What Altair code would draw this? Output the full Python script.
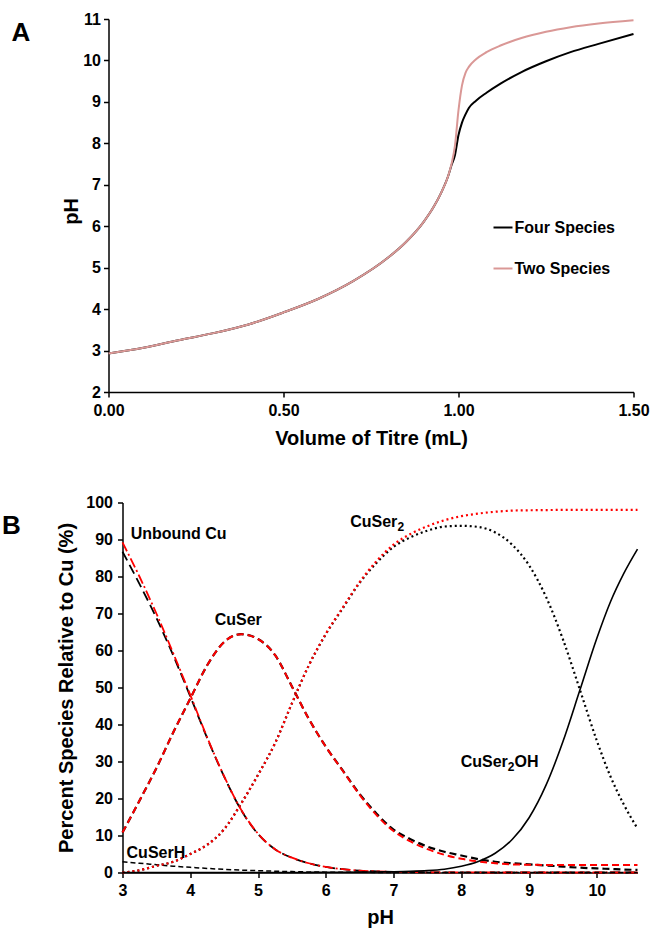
import altair as alt
import pandas as pd

FONT = "Liberation Sans"

# ---------------- Panel A: titration curves ----------------
vol = [0.0, 0.1, 0.2, 0.3, 0.4, 0.5, 0.6, 0.7, 0.8, 0.85, 0.9, 0.93, 0.95, 0.97,
       0.98, 0.99, 1.0, 1.01, 1.02, 1.03, 1.05, 1.08, 1.12, 1.18, 1.25, 1.32, 1.4, 1.5]
ph_two = [2.93, 3.07, 3.25, 3.42, 3.63, 3.92, 4.25, 4.68, 5.25, 5.62, 6.1, 6.48, 6.8, 7.2,
          7.5, 7.95, 8.8, 9.4, 9.7, 9.85, 10.03, 10.2, 10.36, 10.54, 10.69, 10.8, 10.89, 10.97]
ph_four = [2.93, 3.07, 3.25, 3.42, 3.63, 3.92, 4.25, 4.68, 5.25, 5.62, 6.1, 6.48, 6.8, 7.2,
           7.47, 7.72, 8.2, 8.5, 8.7, 8.86, 9.03, 9.22, 9.44, 9.72, 9.98, 10.2, 10.4, 10.64]
models = ["Four Species", "Two Species"]
model_colors = ["#000000", "#DA9896"]
vol_ticks = [0, 0.5, 1.0, 1.5]
ph_ticks = list(range(2, 12))

# ---------------- Panel B: speciation (% of Cu) ----------------
ph = [3.0, 3.25, 3.5, 3.75, 4.0, 4.25, 4.5, 4.75, 5.0, 5.25, 5.5, 5.75, 6.0, 6.25, 6.5, 6.75,
      7.0, 7.25, 7.5, 7.75, 8.0, 8.25, 8.5, 8.75, 9.0, 9.25, 9.5, 9.75, 10.0, 10.2, 10.4, 10.6]
# two-species model (red)
cu_two = [89.2, 80.0, 70.0, 59.2, 48.0, 36.5, 26.0, 17.0, 10.5, 6.3, 4.0, 2.5, 1.5, 0.9, 0.5, 0.3,
          0.15, 0.1, 0.05, 0.03, 0.02, 0.01, 0, 0, 0, 0, 0, 0, 0, 0, 0, 0]
cuser_two = [10.8, 19.4, 28.2, 37.9, 47.0, 56.0, 62.3, 64.4, 63.1, 58.8, 50.3, 41.5, 34.0, 27.5, 21.0, 15.5,
             11.2, 8.4, 6.3, 4.8, 3.7, 3.0, 2.5, 2.2, 2.1, 2.05, 2.0, 2.0, 2.0, 2.0, 2.0, 2.0]
cuser2_two = [0.0, 0.6, 1.8, 2.9, 5.0, 7.5, 11.7, 18.6, 26.4, 34.9, 45.7, 56.0, 64.5, 71.6, 78.5, 84.2,
              88.6, 91.5, 93.6, 95.2, 96.3, 97.0, 97.5, 97.8, 97.9, 97.95, 98.0, 98.0, 98.0, 98.0, 98.0, 98.0]
# four-species model (black)
cu_four = [86.7, 78.0, 68.8, 58.6, 47.6, 36.3, 25.9, 16.9, 10.4, 6.3, 4.0, 2.5, 1.5, 0.9, 0.5, 0.3,
           0.15, 0.1, 0.05, 0.03, 0.02, 0.01, 0, 0, 0, 0, 0, 0, 0, 0, 0, 0]
cuserh_four = [2.9, 2.5, 2.1, 1.7, 1.4, 1.1, 0.85, 0.65, 0.5, 0.35, 0.25, 0.15, 0.1, 0.07, 0.05, 0.03,
               0.02, 0.01, 0, 0, 0, 0, 0, 0, 0, 0, 0, 0, 0, 0, 0, 0]
cuser_four = [10.8, 19.4, 28.2, 37.9, 47.0, 56.0, 62.3, 64.4, 63.1, 58.8, 50.3, 41.5, 34.0, 27.6, 21.2, 15.9,
              11.6, 9.0, 7.0, 5.6, 4.6, 3.6, 2.9, 2.5, 2.2, 1.9, 1.6, 1.3, 1.1, 0.95, 0.8, 0.7]
cuser2_four = [0.0, 0.6, 1.8, 2.9, 5.0, 7.5, 11.7, 18.6, 26.4, 34.9, 45.7, 56.0, 64.4, 71.4, 78.3, 83.7,
               88.0, 90.6, 92.4, 93.5, 93.7, 93.4, 91.9, 88.6, 83.0, 74.5, 63.0, 49.4, 35.6, 26.0, 18.3, 11.9]
cuser2oh_four = [0, 0, 0, 0, 0, 0, 0, 0, 0, 0, 0.01, 0.02, 0.05, 0.07, 0.1, 0.15,
                 0.2, 0.3, 0.5, 0.9, 1.7, 3.0, 5.2, 8.9, 14.8, 23.6, 35.4, 49.3, 63.3, 73.1, 80.9, 87.4]
pct_ticks = list(range(0, 101, 10))
ph_axis_ticks = list(range(3, 11))

# species labels: main text, optional subscript and trailing text, anchor (pH, percent)
label_text = ["Unbound Cu", "CuSer", "CuSer", "CuSer", "CuSerH"]
label_sub = ["", "", "2", "2", ""]
label_tail = ["", "", "", "OH", ""]
label_ph = [3.12, 4.36, 6.36, 7.99, 3.06]
label_pct = [91.5, 68.3, 94.6, 29.8, 5.3]

for s in (cu_two, cuser_two, cuser2_two, cu_four, cuserh_four, cuser_four, cuser2_four, cuser2oh_four):
    assert len(s) == len(ph)

TICK_FS = 16
TITLE_FS = 20
LABEL_FS = 16
SUB_FS = 12
B_INSET = 14  # panel B's axes sit a little further right than panel A's

# ---------------- build panel A ----------------
df_a = pd.concat([
    pd.DataFrame({"V": vol, "pH": ph_four, "model": models[0]}),
    pd.DataFrame({"V": vol, "pH": ph_two, "model": models[1]}),
])

base_a = alt.Chart(df_a).encode(
    x=alt.X("V:Q", scale=alt.Scale(domain=[0, 1.5], nice=False),
            axis=alt.Axis(values=vol_ticks, format=".2f", title="Volume of Titre (mL)",
                          labelFlush=False, labelPadding=5, titleY=46, titleBaseline="middle")),
    y=alt.Y("pH:Q", scale=alt.Scale(domain=[2, 11], nice=False),
            axis=alt.Axis(values=ph_ticks, title="pH", labelPadding=3,
                          titleX=-37, titleY=192, titleBaseline="middle")),
    color=alt.Color("model:N", scale=alt.Scale(domain=models, range=model_colors),
                    legend=alt.Legend(title=None, orient="none", legendX=384, legendY=198,
                                      symbolType="stroke", symbolSize=361, symbolStrokeWidth=2,
                                      labelFontSize=16, labelFont=FONT, labelFontWeight="bold",
                                      labelColor="black", labelOffset=1, rowPadding=22,
                                      padding=0, labelLimit=300)),
)
line_four = base_a.transform_filter(alt.datum.model == models[0]).mark_line(
    strokeWidth=2, interpolate="monotone")
line_two = base_a.transform_filter(alt.datum.model == models[1]).mark_line(
    strokeWidth=2, interpolate="monotone")

letter_a = alt.Chart(pd.DataFrame({"t": ["A"]})).mark_text(
    font=FONT, fontSize=26, fontWeight="bold", align="left", baseline="middle", color="black"
).encode(x=alt.value(-97), y=alt.value(14), text="t:N")

panel_a = alt.layer(line_four, line_two, letter_a).properties(width=525, height=373)

# ---------------- build panel B ----------------
series = {
    "cu_four": cu_four, "cu_two": cu_two, "cuserh_four": cuserh_four,
    "cuser_four": cuser_four, "cuser_two": cuser_two,
    "cuser2_four": cuser2_four, "cuser2_two": cuser2_two, "cuser2oh_four": cuser2oh_four,
}
df_b = pd.concat([pd.DataFrame({"pH": ph, "pct": v, "key": k}) for k, v in series.items()])

WB = 515
x_b = alt.X("pH:Q", scale=alt.Scale(domain=[3, 10.6], nice=False, range=[B_INSET, B_INSET + WB]),
            axis=alt.Axis(values=ph_axis_ticks, format="d", title="pH", labelPadding=5,
                          labelFlush=False, titleX=B_INSET + WB / 2, titleY=45,
                          titleBaseline="middle"))
y_b = alt.Y("pct:Q", scale=alt.Scale(domain=[0, 100], nice=False),
            axis=alt.Axis(values=pct_ticks, format="d", title="Percent Species Relative to Cu (%)",
                          offset=-B_INSET, labelPadding=5, titleX=-56, titleBaseline="middle"))
base_b = alt.Chart(df_b).encode(x=x_b, y=y_b)

styles = [
    ("cu_four", "#000000", [10, 5], 1.8),
    ("cu_two", "#FF0000", [10, 3, 2, 3], 1.8),
    ("cuserh_four", "#000000", [5, 3], 1.5),
    ("cuser_four", "#000000", [7, 4], 2.2),
    ("cuser_two", "#FF0000", [7, 4], 2.0),
    ("cuser2_four", "#000000", [2, 3], 2.2),
    ("cuser2_two", "#FF0000", [2, 3], 2.2),
    ("cuser2oh_four", "#000000", None, 1.6),
]
layers_b = []
for key, col, dash, w in styles:
    kw = dict(color=col, strokeWidth=w, interpolate="monotone")
    if dash:
        kw["strokeDash"] = dash
    layers_b.append(base_b.transform_filter(alt.datum.key == key).mark_line(**kw))

df_lab = pd.DataFrame({"label": label_text, "sub": label_sub, "tail": label_tail,
                       "pH": label_ph, "pct": label_pct})
lab_base = alt.Chart(df_lab).encode(x=x_b, y=y_b)
text_kw = dict(font=FONT, fontWeight="bold", align="left", baseline="middle", color="black")
main_w = 47.2  # width of "CuSer" at LABEL_FS
labels_b = [
    lab_base.mark_text(fontSize=LABEL_FS, **text_kw).encode(text="label:N"),
    lab_base.transform_filter(alt.datum.sub != "").mark_text(
        fontSize=SUB_FS, dx=main_w, dy=5, **text_kw).encode(text="sub:N"),
    lab_base.transform_filter(alt.datum.tail != "").mark_text(
        fontSize=LABEL_FS, dx=main_w + 6.7, **text_kw).encode(text="tail:N"),
]

letter_b = alt.Chart(pd.DataFrame({"t": ["B"]})).mark_text(
    font=FONT, fontSize=26, fontWeight="bold", align="left", baseline="middle", color="black"
).encode(x=alt.value(-106.5), y=alt.value(23), text="t:N")

panel_b = alt.layer(*layers_b, *labels_b, letter_b).properties(width=WB + B_INSET, height=370)

chart = alt.concat(panel_a, panel_b, columns=1, spacing=46.5, align="none").properties(
    padding={"left": 1.5, "top": 11, "right": 0, "bottom": 0}
).configure_view(stroke=None).configure_axis(
    grid=False, domainColor="black", domainWidth=1.5, tickColor="black", tickWidth=1.5,
    tickSize=5, labelFont=FONT, labelFontSize=TICK_FS, labelFontWeight="bold", labelColor="black",
    titleFont=FONT, titleFontSize=TITLE_FS, titleFontWeight="bold", titleColor="black",
)

chart.save("out.html", embed_options={"renderer": "svg", "actions": False})
